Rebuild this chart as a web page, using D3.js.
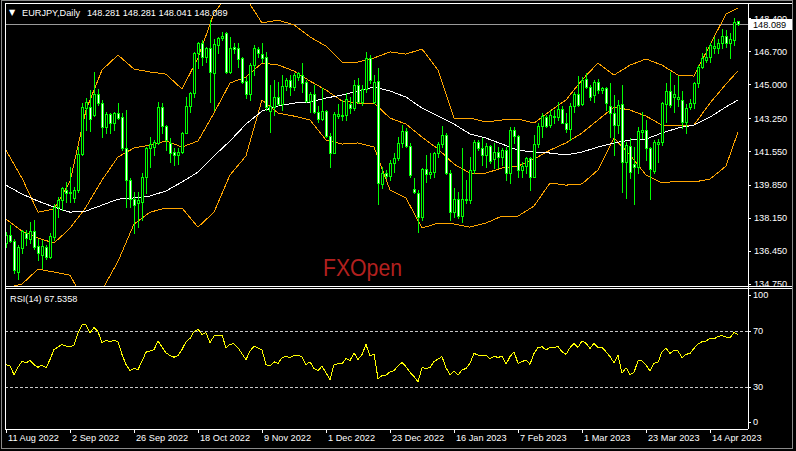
<!DOCTYPE html>
<html><head><meta charset="utf-8">
<script src="https://cdn.jsdelivr.net/npm/d3@7"></script>
<style>body{margin:0;background:#000}svg{display:block}</style>
</head><body><svg id="c" width="796" height="451"></svg>
<script>
// ---------- DATA ----------
const symbolTitle = "EURJPY,Daily";
const titlePrices = "148.281 148.281 148.041 148.089";
const firstDate = "11 Aug 2022";
const opens = [136.82,137.25,136.96,135.37,136.57,137.34,137.03,137.46,136.69,136.22,136.65,136.14,137.13,138.68,139.05,139.57,139.40,139.14,139.57,141.42,143.77,143.85,143.43,144.49,144.03,142.79,143.48,143.03,143.51,143.30,141.71,140.08,139.09,138.92,138.97,140.25,141.71,141.80,141.97,143.82,142.86,142.00,141.54,141.37,141.54,142.52,143.89,144.54,146.60,147.11,146.43,146.86,145.60,147.03,147.37,147.66,145.65,146.91,146.86,146.34,145.20,144.49,146.00,146.80,146.55,146.39,143.65,143.85,144.37,143.99,144.92,145.23,144.85,145.40,145.50,145.14,144.16,144.51,143.60,143.20,143.65,142.35,141.49,143.38,143.38,143.43,143.99,143.80,144.97,144.11,144.75,146.34,144.11,145.17,139.88,140.46,140.29,140.94,141.20,142.00,142.62,141.83,139.60,139.43,138.17,140.63,140.39,140.51,141.49,141.94,142.40,140.42,138.45,139.09,138.23,139.09,139.05,140.60,142.05,141.71,141.37,141.83,141.14,141.54,141.28,141.62,140.42,142.65,142.35,140.60,140.80,141.20,140.25,141.94,142.86,143.34,142.91,143.37,143.34,143.72,143.03,142.69,143.89,144.51,143.99,145.26,144.88,144.45,145.14,144.71,144.80,143.89,143.55,142.91,143.99,141.02,141.83,140.91,140.77,142.57,142.65,141.71,140.56,141.94,142.05,143.99,144.68,144.33,144.23,144.20,143.08,143.82,144.03,145.05,145.88,146.26,146.39,146.86,146.86,147.11,147.49,147.15,147.28,148.281];
const highs = [137.42,137.77,137.03,136.74,137.53,137.51,137.94,138.02,137.03,136.99,136.74,137.34,138.85,139.22,139.74,139.99,140.77,139.74,141.80,144.03,144.28,144.71,145.65,144.75,144.20,143.60,143.55,143.60,144.03,143.55,143.68,140.17,139.48,139.48,140.42,141.80,142.31,142.14,144.11,144.06,142.91,142.23,141.71,141.71,142.57,144.37,144.63,146.68,147.20,147.28,146.94,148.31,147.32,147.46,147.71,147.71,147.46,147.11,147.11,146.43,145.40,146.08,147.03,146.94,147.11,146.68,144.97,145.23,145.14,145.49,145.31,145.49,145.57,145.65,146.08,145.23,144.63,144.97,143.89,144.80,143.68,142.48,143.60,143.99,144.20,144.54,144.37,145.23,145.31,144.97,146.68,146.51,145.49,145.83,140.77,140.59,141.11,141.45,142.31,142.91,142.74,141.97,140.17,139.57,140.69,141.37,141.45,141.54,142.05,142.86,142.48,140.59,139.65,139.48,141.71,140.08,141.28,142.14,142.14,142.23,141.97,141.88,141.97,141.80,141.71,141.80,142.82,142.82,142.40,141.02,141.28,141.28,142.40,142.99,143.51,143.43,143.68,143.68,144.11,143.89,143.51,144.03,144.63,145.43,145.36,145.60,144.97,145.23,145.26,144.85,144.85,145.05,144.45,144.20,144.97,142.05,142.23,141.80,142.82,143.60,143.17,141.80,142.14,142.17,144.11,145.05,145.65,144.97,145.43,144.68,143.99,144.23,145.14,146.00,146.63,146.94,147.15,147.42,147.32,147.83,147.80,147.63,148.40,148.281];
const lows = [136.65,136.91,135.28,134.97,136.31,136.74,136.82,136.51,135.97,135.54,136.00,136.05,136.99,138.20,138.54,138.97,138.97,138.97,139.48,141.37,142.65,142.62,143.37,143.94,142.31,142.48,142.48,142.65,143.20,141.62,138.71,138.71,137.34,137.68,138.02,139.40,140.77,141.37,141.94,142.48,141.62,141.02,140.85,140.91,141.45,142.48,143.60,144.37,145.83,146.00,146.17,144.11,143.68,146.60,147.28,145.57,145.57,146.60,145.91,145.05,144.28,144.20,145.49,146.43,146.17,143.68,142.57,143.43,143.94,143.68,144.71,144.45,144.71,145.23,144.63,144.11,143.60,143.51,143.08,143.17,142.28,140.73,141.45,143.25,143.17,143.17,143.51,143.68,144.03,143.94,144.63,145.05,144.03,138.85,139.65,140.17,140.08,140.51,141.11,141.80,141.76,140.25,139.40,137.42,138.02,139.99,140.17,140.25,141.28,141.80,140.39,138.02,138.20,138.11,137.94,138.88,138.88,140.42,141.62,140.85,140.77,140.94,140.68,140.68,140.85,140.08,139.91,142.00,140.25,140.25,140.42,139.57,140.22,141.80,142.31,142.82,142.82,143.00,143.17,142.99,142.57,142.14,143.60,143.89,143.94,144.80,144.20,144.11,144.54,144.58,143.68,142.31,141.37,142.48,139.48,139.14,140.17,138.85,140.42,142.23,141.11,139.09,140.42,141.02,141.88,143.08,143.85,143.60,143.89,142.74,142.52,143.72,143.77,144.85,145.83,146.17,146.17,146.60,146.60,146.86,146.94,146.34,147.03,148.041];
const closes = [137.25,136.96,135.45,136.65,137.48,137.08,137.46,136.65,136.31,136.69,136.10,137.22,138.71,139.05,139.65,139.40,139.46,139.57,141.42,143.82,144.08,143.20,144.49,144.03,142.79,143.48,143.03,143.51,143.25,141.71,140.08,139.09,138.80,139.05,140.25,141.71,141.94,142.05,143.82,142.86,142.14,141.49,141.37,141.54,142.52,143.89,144.54,146.63,147.11,146.43,146.86,145.65,147.08,147.37,147.49,145.65,146.86,146.80,146.29,145.14,144.49,146.00,146.86,146.60,146.34,143.82,143.89,144.37,143.99,144.92,145.23,144.85,145.49,145.57,145.09,144.16,144.51,143.60,143.20,143.65,142.35,141.49,143.48,143.48,143.43,144.23,143.77,144.97,144.11,144.75,146.34,145.23,145.14,139.91,140.42,140.29,140.94,141.20,142.00,142.62,141.83,140.34,139.48,138.20,140.63,140.39,140.51,141.49,141.94,142.40,140.42,138.45,139.09,138.23,139.09,139.05,140.60,142.05,141.71,141.37,141.83,141.07,141.54,141.28,141.62,140.42,142.65,142.35,140.60,140.80,141.20,140.25,141.94,142.86,143.37,142.86,143.43,143.34,143.72,143.03,142.69,143.89,144.51,143.94,145.23,144.88,144.37,145.14,144.71,144.80,144.03,143.55,142.91,143.94,141.02,141.88,140.51,140.77,142.60,142.65,141.71,140.63,142.05,142.05,144.03,144.68,143.94,144.49,144.37,143.08,143.77,144.03,145.09,145.91,146.34,146.43,147.03,146.97,147.11,147.49,147.11,147.32,148.23,148.089];

// Indicator readings, taken every 4th bar (and the last bar)
const bandBars   = [0,4,8,12,16,20,24,28,32,36,40,44,48,52,56,60,64,68,72,76,80,84,88,92,96,100,104,108,112,116,120,124,128,132,136,140,144,148,152,156,160,164,168,172,176,180,183];
const upperBand  = [141.62,140.18,138.43,138.59,140.00,143.68,145.74,146.51,145.79,145.64,145.53,144.76,146.36,148.67,149.75,149.44,148.16,148.31,148.06,147.44,146.97,146.15,146.15,146.36,146.67,146.56,146.82,145.74,143.27,143.27,143.07,143.17,143.22,143.01,143.63,144.20,145.23,146.10,145.48,145.99,146.31,145.99,145.48,145.43,147.03,148.62,148.93];
const middleBand = [138.07,137.46,137.10,136.84,137.60,138.69,140.08,141.27,141.73,141.88,142.09,141.78,142.09,143.53,145.07,145.38,146.10,146.00,145.69,145.17,144.71,144.15,144.04,144.04,143.27,142.96,142.29,141.68,140.90,140.44,140.44,140.70,140.80,141.16,141.62,141.99,142.50,143.17,143.84,143.68,143.37,142.91,142.86,142.91,144.04,145.02,145.69];
const lowerBand  = [134.53,134.73,135.50,135.35,135.19,133.70,134.42,135.90,137.82,138.43,138.64,138.64,137.66,138.43,140.34,141.32,144.20,143.53,143.37,143.17,142.14,141.93,141.99,141.78,139.57,139.16,137.61,137.87,137.82,137.66,137.87,138.23,138.23,138.74,139.93,139.82,139.88,140.60,142.24,141.37,140.34,139.93,140.03,139.98,140.13,140.80,142.55];
const movingAvg  = [139.82,139.36,139.00,138.69,138.43,138.49,138.79,139.10,139.16,139.26,139.52,139.98,140.49,141.32,142.09,142.96,143.63,143.89,144.04,144.09,144.30,144.45,144.66,144.87,144.66,144.35,143.78,143.37,142.96,142.45,142.24,141.93,141.62,141.52,141.47,141.37,141.52,141.78,141.99,142.14,142.19,142.50,142.76,142.91,143.32,143.84,144.20];

const rsi = [46.0,44.9,38.9,44.1,48.4,47.2,48.9,46.0,44.1,45.6,43.7,49.6,56.8,58.5,60.4,59.2,59.0,59.7,68.8,74.3,74.3,68.8,72.4,69.5,61.6,63.3,62.3,63.3,62.3,53.2,46.0,41.7,43.2,42.5,48.4,54.9,55.6,56.6,62.8,58.5,54.4,52.5,51.3,52.3,56.8,62.3,64.7,69.5,71.2,67.6,68.8,61.6,66.4,67.1,67.1,58.0,60.4,60.9,58.0,53.7,49.6,55.6,59.2,58.0,56.3,46.0,44.9,48.0,46.8,50.8,52.0,50.8,52.8,52.8,51.3,46.0,48.0,43.2,41.7,44.9,40.1,35.3,46.0,46.5,46.5,50.4,48.9,54.4,49.6,53.2,60.4,52.0,53.7,36.0,38.1,38.4,40.8,41.7,45.2,47.4,44.5,40.5,37.4,33.8,43.8,43.3,43.8,48.1,50.0,51.7,43.8,38.6,41.4,38.6,42.1,43.3,46.9,54.0,52.9,52.1,52.9,50.0,52.1,51.0,52.1,46.2,51.7,55.2,46.9,48.1,49.3,46.2,54.0,58.1,58.8,56.4,58.3,58.3,58.8,55.2,53.3,58.1,61.2,58.3,62.9,61.2,57.6,61.2,58.3,58.3,55.2,51.7,47.4,52.9,39.8,43.8,39.0,40.5,48.6,48.6,45.7,41.4,46.9,47.6,55.2,57.6,54.0,56.2,55.7,51.0,53.3,54.0,57.6,60.7,62.4,62.9,64.8,64.3,66.0,66.7,65.7,65.2,69.0,67.5358];
const rsiLabel = "RSI(14) 67.5358";

const priceTicks = [148.4,146.7,145.0,143.25,141.55,139.85,138.15,136.45,134.75];
const priceTickLabels = ["148.400","146.700","145.000","143.250","141.550","139.850","138.150","136.450","134.750"];
const rsiTicks = [100,70,30,0];
const rsiLevels = [70,30];
const dateTickBars = [0,16,32,48,64,80,96,112,128,144,160,176];
const dateTickLabels = ["11 Aug 2022","2 Sep 2022","26 Sep 2022","18 Oct 2022","9 Nov 2022","1 Dec 2022","23 Dec 2022","16 Jan 2023","7 Feb 2023","1 Mar 2023","23 Mar 2023","14 Apr 2023"];
const watermark = "FXOpen";

// ---------- LAYOUT ----------
const W = 796, H = 451;
const L = 5, R = 748, mainTop = 3, mainBot = 286, rsiTop = 288, rsiBot = 429;
const FONT = "'Liberation Sans', Arial, sans-serif";
const FS = 9.2;
const GREEN = "#00ff00";

const svg = d3.select("#c");
svg.append("rect").attr("width", W).attr("height", H).attr("fill", "#000");

const n = closes.length;
const x = d3.scaleLinear().domain([0, n - 1]).range([6, 738]);
const y = d3.scaleLinear().domain([134.75, 148.4]).range([283.7, 18.3]);
const yr = d3.scaleLinear().domain([0, 100]).range([429, 289]);

const defs = svg.append("defs");
defs.append("clipPath").attr("id", "mainClip").append("rect")
  .attr("x", L + 1).attr("y", mainTop + 1).attr("width", R - L - 1).attr("height", mainBot - mainTop - 1);
defs.append("clipPath").attr("id", "rsiClip").append("rect")
  .attr("x", L + 1).attr("y", rsiTop + 1).attr("width", R - L - 1).attr("height", rsiBot - rsiTop - 1);

// watermark
svg.append("text").attr("x", 323).attr("y", 276).attr("font-family", FONT)
  .attr("font-size", 23).attr("fill", "#b3201f").attr("textLength", 79)
  .attr("lengthAdjust", "spacingAndGlyphs").text(watermark);

const main = svg.append("g").attr("clip-path", "url(#mainClip)");

// current price line
main.append("line").attr("x1", L).attr("x2", R)
  .attr("y1", Math.round(y(closes[n - 1])) + 0.5).attr("y2", Math.round(y(closes[n - 1])) + 0.5)
  .attr("stroke", "#9a9a9a").attr("stroke-width", 1);

// indicator lines
const bandLine = arr => d3.line().x((d, k) => x(bandBars[k])).y(d => y(d))(arr);
[[upperBand, "#ffa500"], [middleBand, "#ffa500"], [lowerBand, "#ffa500"], [movingAvg, "#ffffff"]]
  .forEach(([arr, col]) => {
    main.append("path").attr("d", bandLine(arr)).attr("fill", "none")
      .attr("stroke", col).attr("stroke-width", 1).attr("shape-rendering", "crispEdges");
  });

// candles
const cg = main.append("g").attr("shape-rendering", "crispEdges");
for (let i = 0; i < n; i++) {
  const cx = Math.round(x(i));
  const yh = Math.round(y(highs[i])), yl = Math.round(y(lows[i]));
  cg.append("rect").attr("x", cx).attr("width", 1).attr("y", yh).attr("height", Math.max(1, yl - yh + 1)).attr("fill", GREEN);
  const top = Math.round(y(Math.max(opens[i], closes[i])));
  const bot = Math.round(y(Math.min(opens[i], closes[i])));
  const h = Math.max(1, bot - top + 1);
  cg.append("rect").attr("x", cx - 1).attr("width", 3).attr("y", top).attr("height", h).attr("fill", GREEN);
  if (h > 2) {
    cg.append("rect").attr("x", cx).attr("width", 1).attr("y", top + 1).attr("height", h - 2)
      .attr("fill", closes[i] < opens[i] ? "#ffffff" : "#000000");
  }
}

// RSI
const rg = svg.append("g").attr("clip-path", "url(#rsiClip)");
rsiLevels.forEach(v => {
  rg.append("line").attr("x1", L).attr("x2", R).attr("y1", Math.round(yr(v)) + 0.5).attr("y2", Math.round(yr(v)) + 0.5)
    .attr("stroke", "#c8c8c8").attr("stroke-dasharray", "3,2").attr("stroke-width", 1);
});
rg.append("path").attr("d", d3.line().x((d, i) => x(i)).y(d => yr(d))(rsi))
  .attr("fill", "none").attr("stroke", "#ffff00").attr("stroke-width", 1).attr("shape-rendering", "crispEdges");

// frames
const fr = svg.append("g").attr("stroke", "#ffffff").attr("stroke-width", 1).attr("shape-rendering", "crispEdges");
fr.append("line").attr("x1", L).attr("x2", 792).attr("y1", mainTop + 0.5).attr("y2", mainTop + 0.5);
fr.append("line").attr("x1", L).attr("x2", 792).attr("y1", mainBot + 0.5).attr("y2", mainBot + 0.5);
fr.append("line").attr("x1", L).attr("x2", 792).attr("y1", rsiTop + 0.5).attr("y2", rsiTop + 0.5);
fr.append("line").attr("x1", L).attr("x2", R).attr("y1", rsiBot + 0.5).attr("y2", rsiBot + 0.5);
fr.append("line").attr("x1", L + 0.5).attr("x2", L + 0.5).attr("y1", mainTop).attr("y2", rsiBot);
fr.append("line").attr("x1", R + 0.5).attr("x2", R + 0.5).attr("y1", mainTop).attr("y2", rsiBot);
// outer window frame
svg.append("rect").attr("x", 1.5).attr("y", 0.5).attr("width", 791).attr("height", 448)
  .attr("fill", "none").attr("stroke", "#8a8a8a").attr("stroke-width", 1);

// price axis
const pa = svg.append("g").attr("transform", `translate(${R},0)`)
  .call(d3.axisRight(y).tickValues(priceTicks).tickFormat((d, i) => priceTickLabels[i]).tickSize(3).tickSizeOuter(0));
pa.select(".domain").remove();
pa.selectAll("line").attr("stroke", "#fff").attr("shape-rendering", "crispEdges");
pa.selectAll("text").attr("fill", "#fff").attr("font-family", FONT).attr("font-size", FS).attr("x", 6);

// current price box
const yc = y(closes[n - 1]);
svg.append("rect").attr("x", 749).attr("y", Math.round(yc) - 5).attr("width", 43).attr("height", 11).attr("fill", "#fff");
svg.append("text").attr("x", 753).attr("y", yc + 3.5).attr("font-family", FONT).attr("font-size", FS)
  .attr("fill", "#000").text(d3.format(".3f")(closes[n - 1]));

// RSI axis
const ra = svg.append("g").attr("transform", `translate(${R},0)`);
rsiTicks.forEach(v => {
  const yy = Math.min(422, Math.max(295, yr(v)));
  ra.append("line").attr("x1", 0).attr("x2", 3).attr("y1", Math.round(yy) + 0.5).attr("y2", Math.round(yy) + 0.5)
    .attr("stroke", "#fff").attr("shape-rendering", "crispEdges");
  ra.append("text").attr("x", 5).attr("y", yy + 3.3).attr("font-family", FONT).attr("font-size", FS)
    .attr("fill", "#fff").text(v);
});

// date axis
const da = svg.append("g").attr("transform", `translate(0,${rsiBot})`)
  .call(d3.axisBottom(x).tickValues(dateTickBars).tickFormat((d, i) => dateTickLabels[i]).tickSize(4).tickSizeOuter(0));
da.select(".domain").remove();
da.selectAll("line").attr("stroke", "#fff").attr("shape-rendering", "crispEdges");
da.selectAll("text").attr("fill", "#fff").attr("font-family", FONT).attr("font-size", FS)
  .attr("text-anchor", "start").attr("x", 1.5).attr("y", 5).attr("dy", "0.71em");

// titles
svg.append("text").attr("x", 9).attr("y", 15).attr("font-family", "'DejaVu Sans', sans-serif").attr("font-size", 8)
  .attr("fill", "#fff").text("▼");
svg.append("text").attr("x", 22).attr("y", 15.5).attr("font-family", FONT).attr("font-size", FS)
  .attr("fill", "#fff").text(symbolTitle);
svg.append("text").attr("x", 87).attr("y", 15.5).attr("font-family", FONT).attr("font-size", FS)
  .attr("fill", "#fff").text(titlePrices);
svg.append("text").attr("x", 10).attr("y", 301.5).attr("font-family", FONT).attr("font-size", FS)
  .attr("fill", "#fff").text(rsiLabel);
</script></body></html>
